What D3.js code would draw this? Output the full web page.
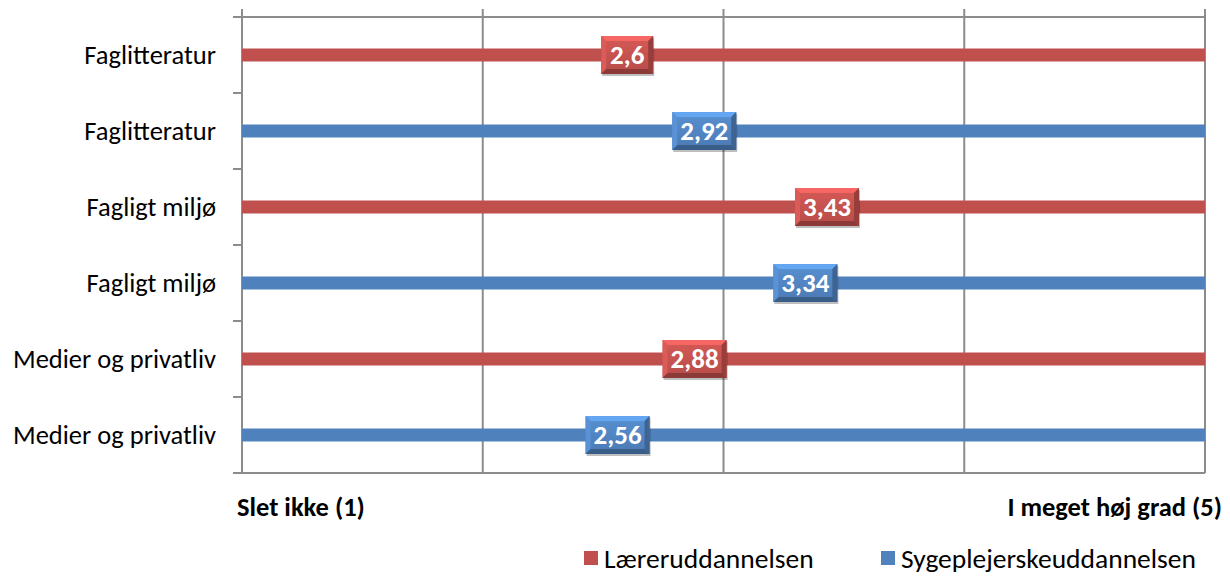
<!DOCTYPE html>
<html>
<head>
<meta charset="utf-8">
<script src="https://cdn.jsdelivr.net/npm/d3@7"></script>
<style>
  html, body { margin: 0; padding: 0; background: #fff; }
  svg { display: block; font-family: Carlito, Calibri, "Open Sans", "Liberation Sans", sans-serif; }
</style>
</head>
<body>
<svg id="chart" width="1230" height="577"></svg>
<script>
// Rows, top to bottom
const categories = ["Faglitteratur", "Faglitteratur", "Fagligt miljø", "Fagligt miljø", "Medier og privatliv", "Medier og privatliv"];
const seriesOfRow = ["Læreruddannelsen", "Sygeplejerskeuddannelsen", "Læreruddannelsen", "Sygeplejerskeuddannelsen", "Læreruddannelsen", "Sygeplejerskeuddannelsen"];
const values = [2.6, 2.92, 3.43, 3.34, 2.88, 2.56];
const seriesNames = ["Læreruddannelsen", "Sygeplejerskeuddannelsen"];
const seriesColors = ["#C0504D", "#4F81BD"];
const scaleMin = 1, scaleMax = 5;
const xTicks = [1, 2, 3, 4, 5];
const endLabels = ["Slet ikke (1)", "I meget høj grad (5)"];

const svg = d3.select("#chart");
const m = { left: 242, right: 1205, top: 17, bottom: 473 };

const x = d3.scaleLinear().domain([scaleMin, scaleMax]).range([m.left, m.right]);
const y = d3.scaleBand().domain(d3.range(categories.length)).range([m.top, m.bottom]);
const color = d3.scaleOrdinal().domain(seriesNames).range(seriesColors);

// gradients for the bevelled value boxes
const defs = svg.append("defs");
seriesNames.forEach((s, i) => {
  const base = d3.color(seriesColors[i]);
  const g = defs.append("linearGradient").attr("id", "grad" + i).attr("x1", 0).attr("y1", 0).attr("x2", 0).attr("y2", 1);
  g.append("stop").attr("offset", "0%").attr("stop-color", base.brighter(0.3));
  g.append("stop").attr("offset", "100%").attr("stop-color", base.darker(0.15));
});

// vertical gridlines
svg.append("g").selectAll("line").data(xTicks).join("line")
  .attr("x1", d => x(d)).attr("x2", d => x(d))
  .attr("y1", m.top - 8).attr("y2", m.bottom)
  .attr("stroke", "#8c8c8c").attr("stroke-width", 2);

// top line and bottom axis
[m.top, m.bottom].forEach(yy => {
  svg.append("line").attr("x1", m.left - 9).attr("x2", m.right).attr("y1", yy).attr("y2", yy)
    .attr("stroke", "#8c8c8c").attr("stroke-width", 2);
});

// y-axis tick marks at band boundaries
const bounds = d3.range(categories.length + 1).map(i => m.top + i * y.step());
svg.append("g").selectAll("line").data(bounds).join("line")
  .attr("x1", m.left - 9).attr("x2", m.left)
  .attr("y1", d => d).attr("y2", d => d)
  .attr("stroke", "#8c8c8c").attr("stroke-width", 2);

// category labels
svg.append("g").selectAll("text").data(categories).join("text")
  .attr("x", 216).attr("y", (d, i) => y(i) + y.bandwidth() / 2)
  .attr("dy", "0.35em").attr("text-anchor", "end")
  .attr("font-size", 26.5).attr("fill", "#000").text(d => d);

// full-width bars
const barH = 13;
svg.append("g").selectAll("rect").data(values).join("rect")
  .attr("x", x(scaleMin)).attr("width", x(scaleMax) - x(scaleMin))
  .attr("y", (d, i) => y(i) + y.bandwidth() / 2 - barH / 2).attr("height", barH)
  .attr("fill", (d, i) => color(seriesOfRow[i]));

// bevelled value boxes
const boxH = 38, bev = 5;
const boxes = svg.append("g").selectAll("g").data(values).join("g")
  .attr("transform", (d, i) => `translate(${x(d)},${y(i) + y.bandwidth() / 2})`);

boxes.each(function (d, i) {
  const g = d3.select(this);
  const label = d3.format(".2~f")(d).replace(".", ",");
  const w = label.length <= 3 ? 52 : 64;
  const si = seriesNames.indexOf(seriesOfRow[i]);
  const base = d3.color(seriesColors[si]);
  const x0 = -w / 2, x1 = w / 2, y0 = -boxH / 2, y1 = boxH / 2;
  // soft shadow
  g.append("rect").attr("x", x0 + 1).attr("y", y0 + 2).attr("width", w).attr("height", boxH)
    .attr("fill", "#000").attr("opacity", 0.25);
  g.append("rect").attr("x", x0).attr("y", y0).attr("width", w).attr("height", boxH)
    .attr("fill", `url(#grad${si})`);
  const edges = [
    { pts: [[x0, y0], [x1, y0], [x1 - bev, y0 + bev], [x0 + bev, y0 + bev]], c: base.brighter(0.7) },
    { pts: [[x0, y0], [x0 + bev, y0 + bev], [x0 + bev, y1 - bev], [x0, y1]], c: base.brighter(0.35) },
    { pts: [[x1, y0], [x1, y1], [x1 - bev, y1 - bev], [x1 - bev, y0 + bev]], c: base.darker(0.7) },
    { pts: [[x0, y1], [x0 + bev, y1 - bev], [x1 - bev, y1 - bev], [x1, y1]], c: base.darker(0.9) }
  ];
  g.selectAll("polygon").data(edges).join("polygon")
    .attr("points", e => e.pts.map(p => p.join(",")).join(" "))
    .attr("fill", e => e.c);
  g.append("text").attr("text-anchor", "middle").attr("dy", "0.35em")
    .attr("font-size", 27).attr("font-weight", "bold").attr("fill", "#fff")
    .text(label);
});

// scale end labels
svg.append("text").attr("x", 237).attr("y", 516).attr("font-size", 26.5).attr("font-weight", "bold")
  .text(endLabels[0]);
svg.append("text").attr("x", 1222).attr("y", 516).attr("text-anchor", "end").attr("font-size", 26.5).attr("font-weight", "bold")
  .text(endLabels[1]);

// legend
const legendX = [584, 881];
const leg = svg.append("g").selectAll("g").data(seriesNames).join("g")
  .attr("transform", (d, i) => `translate(${legendX[i]},558)`);
leg.append("rect").attr("x", 0).attr("y", -7).attr("width", 14).attr("height", 14).attr("fill", d => color(d));
leg.append("text").attr("x", 20).attr("dy", "0.35em").attr("font-size", 27.5).text(d => d);
</script>
</body>
</html>
